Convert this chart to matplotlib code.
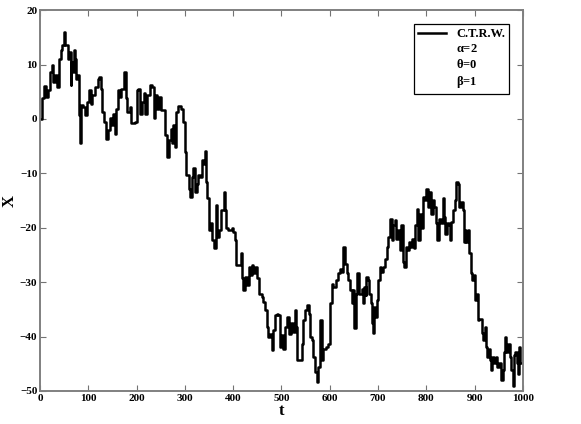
import numpy as np
import matplotlib.pyplot as plt
from matplotlib.lines import Line2D

# values, 10 per row
t = [0, 3, 8, 13, 17, 20, 24, 27, 31, 34,
     39, 43, 46, 49, 52, 57, 60, 63, 65, 68,
     71, 73, 75, 77, 80, 82, 84, 89, 93, 98,
     101, 105, 108, 113, 119, 122, 126, 129, 133, 136,
     141, 144, 148, 151, 155, 158, 162, 166, 168, 173,
     177, 181, 186, 189, 196, 200, 203, 206, 211, 215,
     218, 222, 227, 232, 236, 239, 243, 246, 250, 255,
     258, 262, 266, 271, 273, 276, 279, 282, 286, 291,
     296, 300, 303, 308, 311, 315, 317, 320, 324, 328,
     332, 335, 339, 341, 343, 346, 349, 353, 357, 360,
     364, 367, 371, 375, 380, 383, 385, 390, 397, 400,
     404, 405, 413, 417, 419, 421, 424, 428, 432, 435,
     438, 442, 445, 450, 453, 459, 462, 466, 469, 473,
     476, 480, 483, 487, 490, 493, 497, 500, 504, 507,
     512, 516, 520, 523, 527, 530, 533, 538, 542, 545,
     549, 552, 556, 559, 563, 566, 569, 573, 576, 580,
     583, 587, 592, 597, 600, 604, 607, 613, 618, 621,
     625, 628, 631, 635, 638, 642, 645, 649, 651, 654,
     657, 661, 666, 668, 671, 674, 676, 680, 682, 685,
     687, 689, 691, 694, 697, 700, 704, 707, 711, 714,
     718, 721, 725, 728, 731, 735, 738, 742, 745, 748,
     751, 754, 757, 760, 764, 767, 771, 774, 777, 780,
     783, 787, 790, 794, 797, 799, 803, 806, 809, 813,
     816, 820, 823, 827, 830, 834, 836, 839, 843, 846,
     849, 852, 856, 859, 861, 865, 867, 871, 875, 878,
     881, 883, 887, 889, 892, 894, 898, 901, 904, 906,
     909, 912, 915, 918, 921, 923, 926, 929, 932, 934,
     937, 941, 944, 947, 951, 954, 958, 961, 963, 966,
     970, 973, 976, 979, 981, 984, 987, 990, 992, 995,
     1000]
x = [0.0, 3.8, 6.1, 4.1, 5.3, 8.7, 9.9, 6.8, 8.0, 5.9,
     11.1, 12.6, 13.6, 15.9, 13.6, 11.1, 12.3, 6.2, 10.5, 8.7,
     12.6, 11.1, 7.4, 8.0, 0.7, -4.5, 2.5, 2.2, 0.7, 3.1,
     5.3, 2.8, 4.4, 5.9, 7.4, 7.7, 5.6, 1.3, -0.5, -3.6,
     -2.1, 0.1, -1.2, 1.0, -2.7, 1.9, 5.3, 4.1, 5.6, 8.7,
     3.8, 1.3, 2.2, -0.8, -0.5, 5.3, 5.6, 1.0, 3.1, 4.7,
     1.0, 4.4, 6.3, 5.9, 0.1, 4.4, 1.9, 4.1, 1.6, 1.6,
     -3.0, -7.0, -3.9, -1.8, -4.5, -1.2, -5.1, 1.3, 2.4, 1.9,
     -0.5, -6.1, -10.3, -12.8, -14.3, -10.7, -9.1, -13.4, -11.9, -10.3,
     -10.7, -7.6, -8.2, -5.9, -11.6, -14.6, -20.5, -19.2, -22.3, -23.8,
     -15.9, -21.7, -20.5, -16.8, -13.4, -16.8, -20.1, -20.5, -20.1, -20.8,
     -22.3, -26.9, -26.9, -24.7, -29.3, -31.5, -29.0, -30.6, -27.2, -28.7,
     -26.9, -28.4, -27.2, -29.3, -32.1, -32.7, -33.6, -35.2, -38.2, -40.1,
     -39.5, -42.5, -38.8, -36.1, -35.8, -36.1, -41.9, -39.8, -42.2, -38.2,
     -36.4, -39.5, -37.6, -39.2, -35.2, -38.2, -44.4, -44.4, -41.3, -37.0,
     -35.2, -34.2, -35.8, -40.1, -40.7, -43.8, -46.5, -48.3, -45.6, -37.0,
     -44.4, -42.2, -41.9, -41.3, -33.9, -30.3, -30.9, -29.6, -28.4, -27.5,
     -28.1, -23.5, -26.6, -28.4, -29.6, -31.5, -33.9, -31.5, -38.5, -32.1,
     -28.4, -32.1, -31.2, -33.9, -30.9, -32.4, -29.0, -29.6, -32.1, -33.9,
     -37.6, -39.4, -34.5, -36.4, -33.3, -29.6, -27.2, -28.1, -27.2, -25.7,
     -23.5, -21.7, -18.3, -22.3, -19.5, -18.6, -22.0, -20.4, -24.1, -19.5,
     -26.3, -27.2, -23.5, -24.1, -22.6, -23.5, -22.0, -23.8, -19.5, -16.5,
     -22.3, -17.4, -20.1, -14.3, -14.9, -12.8, -16.2, -13.4, -17.4, -14.9,
     -16.2, -19.2, -22.3, -18.3, -19.2, -14.6, -18.0, -21.1, -19.2, -19.5,
     -22.3, -18.9, -16.8, -14.9, -11.6, -11.9, -16.2, -15.2, -16.8, -22.6,
     -20.4, -22.6, -20.4, -24.7, -28.4, -29.6, -28.7, -33.3, -32.1, -37.0,
     -36.7, -36.7, -39.4, -40.7, -38.2, -41.9, -43.7, -42.2, -44.4, -46.2,
     -43.7, -44.9, -43.7, -45.6, -44.9, -48.0, -46.2, -42.8, -40.1, -42.8,
     -41.3, -43.7, -46.2, -49.1, -43.4, -42.8, -44.9, -46.8, -41.9, -44.9,
     -42.5]

xticks = [0, 100, 200, 300, 400, 500, 600, 700, 800, 900, 1000]
yticks = [-50, -40, -30, -20, -10, 0, 10, 20]
legend_labels = ['C.T.R.W.', r'$\alpha$=2', r'$\theta$=0', r'$\beta$=1']

plt.rcParams['font.family'] = ['Liberation Serif', 'DejaVu Serif']
plt.rcParams['font.weight'] = 'bold'
plt.rcParams['mathtext.fontset'] = 'custom'
plt.rcParams['mathtext.rm'] = 'Liberation Serif:bold'
plt.rcParams['mathtext.it'] = 'Liberation Serif:bold'

fig = plt.figure(figsize=(5.81, 4.24), dpi=100)
ax = fig.add_axes([0.069, 0.078, 0.831, 0.898])

ax.plot(t, x, color='black', linewidth=1.8, drawstyle='steps-post')

ax.set_xlim(0, 1000)
ax.set_ylim(-50, 20)
ax.set_xticks(xticks)
ax.set_yticks(yticks)
ax.tick_params(direction='in', top=True, right=True, length=4, width=0.8,
               color='0.45', labelsize=8, pad=2)
for s in ax.spines.values():
    s.set_color('0.5')
    s.set_linewidth(1.4)

ax.set_xlabel('t', fontsize=12, fontweight='bold', labelpad=0)
ax.set_ylabel('X', fontsize=12, fontweight='bold')
ax.yaxis.set_label_coords(-0.047, 0.5)

blank = Line2D([], [], linestyle='none')
handles = [Line2D([], [], color='black', linewidth=1.8), blank, blank, blank]
leg = ax.legend(handles, legend_labels, loc='upper right', fontsize=9,
                fancybox=False, framealpha=1, edgecolor='black',
                handlelength=2.2, borderaxespad=1.1, labelspacing=0.22,
                borderpad=0.35)
leg.get_frame().set_linewidth(0.9)

fig.savefig('out.png', dpi=100)
